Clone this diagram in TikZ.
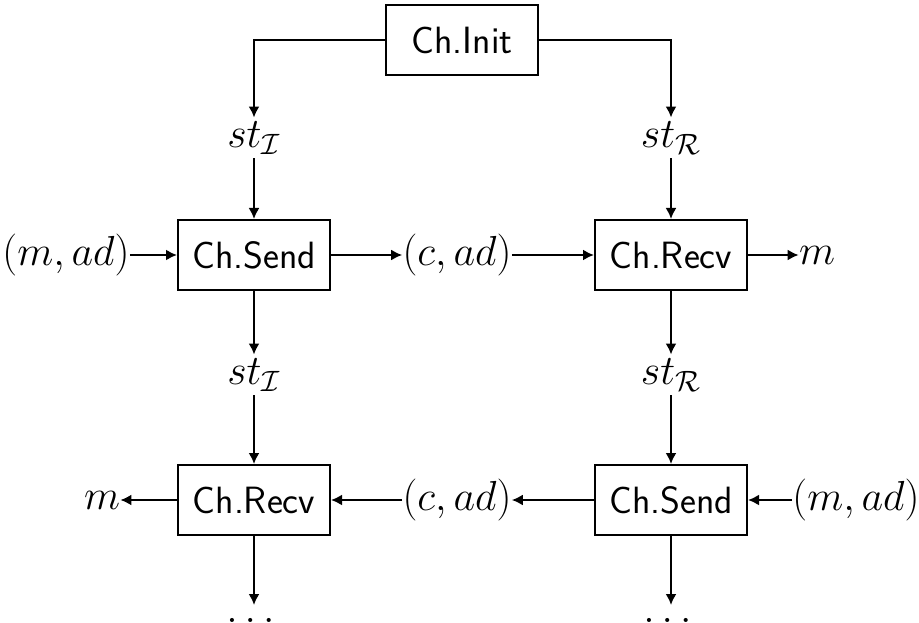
\documentclass[tikz,border=0pt]{standalone}
\usepackage{fix-cm}
\usepackage{amsmath, amssymb}
\usetikzlibrary{arrows.meta,positioning}
\tikzset{
  block/.style = {rectangle, draw, line width=1pt, minimum width=76pt, minimum height=35pt, inner sep=0pt, font=\fontsize{19}{23}\selectfont\sffamily},
  val/.style   = {inner sep=0pt, font=\fontsize{21}{25}\selectfont},
  state/.style = {val, inner ysep=2pt},
  wire/.style  = {-{Latex[length=5.5pt,width=5.5pt]}, line width=1pt}
}

\begin{document}
\begin{tikzpicture}[x=0.5pt, y=0.5pt]
    \useasboundingbox (0,0) rectangle (919,622);
    % Blocks
    \node[block] (init) at (462,582) {Ch.Init};
    \node[block] (sendI) at (254,367) {Ch.Send};
    \node[block] (recvR) at (671,367) {Ch.Recv};
    \node[block] (recvI) at (254,122) {Ch.Recv};
    \node[block] (sendR) at (671,122) {Ch.Send};
    % States
    \node[state] (stIa) at (254,484) {$st_{\mathcal{I}}$};
    \node[state] (stRa) at (671,484) {$st_{\mathcal{R}}$};
    \node[state] (stIb) at (254,247) {$st_{\mathcal{I}}$};
    \node[state] (stRb) at (671,247) {$st_{\mathcal{R}}$};
    % Messages
    \node[val] (inI) at (66,367) {$(m, ad)$};
    \node[val] (ctI) at (457,367) {$(c, ad)$};
    \node[val] (outR) at (817,367) {$m$};
    \node[val] (inR) at (856,122) {$(m, ad)$};
    \node[val] (ctR) at (457,122) {$(c, ad)$};
    \node[val] (outI) at (102,122) {$m$};
    % Continuation
    \node[val, inner ysep=6.5pt, anchor=north] (dotsI) at (254,17) {$\dots$};
    \node[val, inner ysep=6.5pt, anchor=north] (dotsR) at (671,17) {$\dots$};
    % Wires
    \draw[wire] (init.west) -| (stIa.north);
    \draw[wire] (init.east) -| (stRa.north);
    \draw[wire] (stIa.south) -- (sendI.north);
    \draw[wire] (stRa.south) -- (recvR.north);
    \draw[wire] (inI.east) -- (sendI.west);
    \draw[wire] (sendI.east) -- (ctI.west);
    \draw[wire] (ctI.east) -- (recvR.west);
    \draw[wire] (recvR.east) -- (outR.west);
    \draw[wire] (sendI.south) -- (stIb.north);
    \draw[wire] (recvR.south) -- (stRb.north);
    \draw[wire] (stIb.south) -- (recvI.north);
    \draw[wire] (stRb.south) -- (sendR.north);
    \draw[wire] (inR.west) -- (sendR.east);
    \draw[wire] (sendR.west) -- (ctR.east);
    \draw[wire] (ctR.west) -- (recvI.east);
    \draw[wire] (recvI.west) -- (outI.east);
    \draw[wire] (recvI.south) -- (dotsI.north);
    \draw[wire] (sendR.south) -- (dotsR.north);
\end{tikzpicture}
\end{document}
